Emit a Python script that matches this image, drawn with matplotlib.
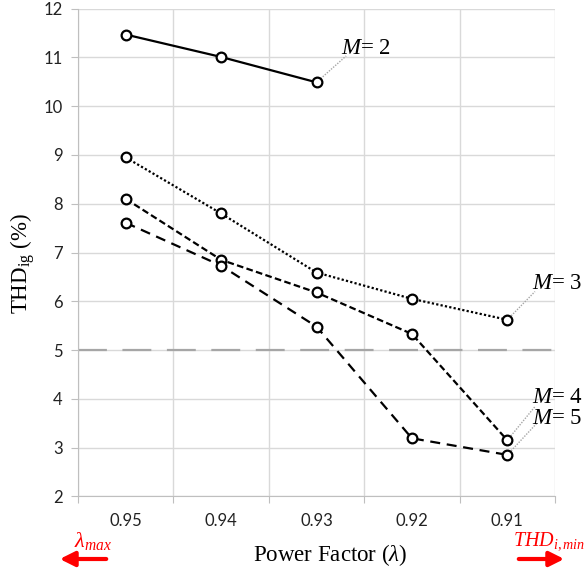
import numpy as np
import matplotlib
matplotlib.use('Agg')
import matplotlib.pyplot as plt

plt.rcParams['mathtext.fontset'] = 'custom'
plt.rcParams['mathtext.rm'] = 'Liberation Serif'
plt.rcParams['mathtext.it'] = 'Liberation Serif:italic'

# data
power_factor = ['0.95', '0.94', '0.93', '0.92', '0.91']
thd_m2 = [11.47, 11.01, 10.49]
thd_m3 = [8.95, 7.80, 6.59, 6.05, 5.62]
thd_m4 = [8.10, 6.85, 6.18, 5.33, 3.15]
thd_m5 = [7.61, 6.73, 5.48, 3.19, 2.85]
thd_limit = 5
y_ticks = list(range(2, 13))

# label text, label anchor, leader end
labels = ['$M$= 2', '$M$= 3', '$M$= 4', '$M$= 5']
label_pos = [(2.26, 11.19), (4.26, 6.37), (4.26, 4.02), (4.26, 3.60)]
leader_end = [(2.31, 11.03), (4.29, 6.20), (4.29, 3.84), (4.31, 3.50)]

grid_col = '#d9d9d9'

fig = plt.figure(figsize=(5.87, 5.72), dpi=100)
ax = fig.add_axes([0.1329, 0.1323, 0.8126, 0.8525])

x = np.arange(len(power_factor))
marker_kw = dict(marker='o', ms=7, mfc='white', mec='black', mew=1.6, color='black', zorder=5)

ax.axhline(thd_limit, color='#a6a6a6', lw=1.6, dashes=(13, 7), zorder=2)

series = [thd_m2, thd_m3, thd_m4, thd_m5]
styles = ['-', (0, (1, 1)), (0, (3, 1.5)), (0, (4.5, 3))]
for vals, ls in zip(series, styles):
    ax.plot(x[:len(vals)], vals, linestyle=ls, lw=1.6, **marker_kw)

for vals, txt, pos, end in zip(series, labels, label_pos, leader_end):
    xi = len(vals) - 1
    ax.plot([xi, end[0]], [vals[-1], end[1]], color='#a6a6a6', lw=1, ls=(0, (1, 1)),
            zorder=3, clip_on=False)
    ax.text(pos[0], pos[1], txt, fontsize=16.5, family='Liberation Serif',
            va='center', ha='left', clip_on=False, zorder=6)

ax.set_xlim(-0.5, len(power_factor) - 0.5)
ax.set_ylim(2, 12)
ax.set_yticks(y_ticks)
ax.set_xticks(np.arange(-0.5, len(power_factor)), minor=False)
ax.set_xticklabels([])
ax.set_xticks(x, minor=True)
ax.set_xticklabels(power_factor, minor=True)
ax.tick_params(axis='x', which='minor', length=0, pad=12)
ax.tick_params(axis='x', which='major', length=5, color='#bfbfbf')
ax.tick_params(axis='y', length=5, color='#bfbfbf', pad=6)
for lab in ax.get_xticklabels(minor=True) + ax.get_yticklabels():
    lab.set_family('Lato')
    lab.set_fontsize(12)
    lab.set_color('#222222')
ax.grid(True, which='major', color=grid_col, lw=1)
ax.set_axisbelow(True)
for side in ['top', 'right']:
    ax.spines[side].set_visible(False)
for side in ['left', 'bottom']:
    ax.spines[side].set_color('#bfbfbf')

fig.text(23 / 587, 1 - 263 / 572, r'THD$_{\mathrm{ig}}$ (%)', rotation=90,
         family='Liberation Serif', fontsize=16.5, ha='center', va='center')
fig.text(330 / 587, 1 - 555 / 572, r'Power Factor ($\lambda$)',
         family='Liberation Serif', fontsize=16.5, ha='center', va='center')

# red hints below the axis
fig.text(74 / 587, 1 - 541 / 572, r'$\lambda_{max}$', color='red', fontsize=16,
         ha='left', va='center')
fig.text(513 / 587, 1 - 541 / 572, r'$THD_{i,min}$', color='red', fontsize=14.5,
         ha='left', va='center')
ax.annotate('', xy=(57, 13), xytext=(109, 13), xycoords='figure pixels',
            textcoords='figure pixels',
            arrowprops=dict(arrowstyle='-|>', color='red', lw=3, mutation_scale=22))
ax.annotate('', xy=(567, 13), xytext=(516, 13), xycoords='figure pixels',
            textcoords='figure pixels',
            arrowprops=dict(arrowstyle='-|>', color='red', lw=3, mutation_scale=22))

fig.savefig('out.png', dpi=100)
